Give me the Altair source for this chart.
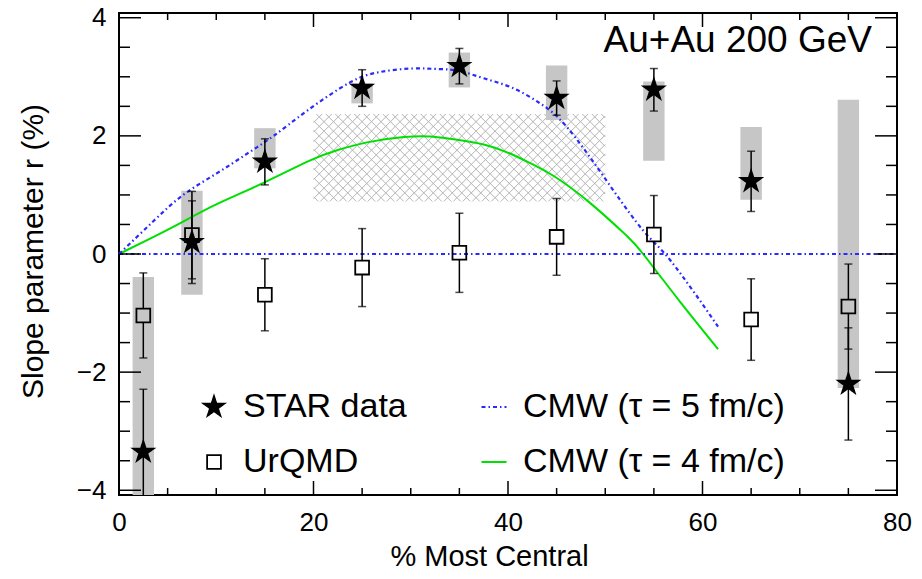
import altair as alt
import pandas as pd
import numpy as np

FONT = "Liberation Sans"
BLUE = "#2a2aff"
GREEN = "#00e000"
BOXGREY = "#c6c6c6"

# ---------------- data ----------------
cent = [2.5, 7.5, 15, 25, 35, 45, 55, 65, 75]
star_r = [-3.35, 0.20, 1.56, 2.81, 3.18, 2.64, 2.78, 1.23, -2.20]
star_err = [1.06, 0.70, 0.39, 0.31, 0.30, 0.29, 0.36, 0.51, 0.95]
sys_lo = [-6.30, -0.69, 1.45, 2.55, 2.82, 2.27, 1.58, 0.92, -2.27]
sys_hi = [-0.39, 1.07, 2.13, 2.89, 3.41, 3.19, 2.92, 2.15, 2.61]
urqmd_r = [-1.04, 0.32, -0.69, -0.23, 0.02, 0.29, 0.33, -1.11, -0.89]
urqmd_err = [0.72, 0.74, 0.61, 0.66, 0.67, 0.65, 0.66, 0.69, 0.72]

cmw5_x = [0, 3.5, 6.6, 10.0, 13.1, 15.9, 19.3, 23.7, 26.8, 30.1, 33.0, 35.0, 37.6, 40.5,
          43.3, 46.0, 49.8, 53.2, 55.3, 56.8, 59.1, 61.6]
cmw5_y = [0, 0.55, 1.00, 1.36, 1.69, 2.00, 2.42, 2.90, 3.08, 3.14, 3.13, 3.10, 2.97, 2.81,
          2.55, 2.16, 1.32, 0.54, 0.15, -0.13, -0.64, -1.23]
cmw4_x = [0, 3.2, 6.5, 10.0, 14.8, 19.6, 22.5, 25.5, 29.3, 32.0, 34.1, 37.6, 40.5, 42.5,
          44.7, 48.4, 52.2, 53.9, 57.7, 61.6]
cmw4_y = [0, 0.26, 0.54, 0.84, 1.20, 1.58, 1.76, 1.89, 1.98, 1.99, 1.95, 1.85, 1.68, 1.52,
          1.32, 0.87, 0.31, 0.00, -0.81, -1.61]

zero_x = [0, 80]
zero_y = [0, 0]

band_x = [20, 50]
band_y = [0.89, 2.37]

series = ["STAR data", "UrQMD", "CMW (τ = 5 fm/c)", "CMW (τ = 4 fm/c)"]

x_major = [0, 20, 40, 60, 80]
x_minor = [5, 10, 15, 25, 30, 35, 45, 50, 55, 65, 70, 75]
y_major = [-4, -2, 0, 2, 4]
y_minor = [-3.5, -3, -2.5, -1.5, -1, -0.5, 0.5, 1, 1.5, 2.5, 3, 3.5]

annotation = "Au+Au 200 GeV"

# ---------------- geometry ----------------
W, H = 778, 482
XD = [0, 80]
YD = [-4.08, 4.08]
kx = W / (XD[1] - XD[0])
ky = H / (YD[1] - YD[0])

xs = alt.Scale(domain=XD, nice=False, zero=False)
ys = alt.Scale(domain=YD, nice=False, zero=False)

xaxis = alt.Axis(values=x_major, title="% Most Central", grid=False, ticks=False, tickSize=0,
                 domain=False, labelFont=FONT, labelFontSize=26, labelColor="black",
                 labelPadding=14, labelFlush=False, titleFont=FONT, titleFontSize=29,
                 titleFontWeight="normal", titleColor="black", titleX=370, titleY=70,
                 titleBaseline="alphabetic", titleAlign="center", format="d")
yaxis = alt.Axis(values=y_major, title="Slope parameter r (%)", grid=False, ticks=False,
                 tickSize=0, domain=False, labelFont=FONT, labelFontSize=26, labelColor="black",
                 labelPadding=13, labelFlush=False, titleFont=FONT, titleFontSize=30,
                 titleFontWeight="normal", titleColor="black", titleX=-77, titleY=238,
                 titleBaseline="alphabetic", titleAlign="center", titleAngle=270, format="d")


def X(f):
    return alt.X(f, type="quantitative", scale=xs, axis=xaxis)


def Y(f):
    return alt.Y(f, type="quantitative", scale=ys, axis=yaxis)


# hatch pattern lines (decoration of the band)
Wpx = (band_x[1] - band_x[0]) * kx
Hpx = (band_y[1] - band_y[0]) * ky
step = 9.5
segs = []
for c in np.arange(-Wpx, Hpx, step):
    a, b = max(0, -c), min(Wpx, Hpx - c)
    if b > a:
        segs.append((a, a + c, b, b + c))
for c in np.arange(step / 2, Wpx + Hpx, step):
    a, b = max(0, c - Hpx), min(Wpx, c)
    if b > a:
        segs.append((a, c - a, b, c - b))
hatch = pd.DataFrame([
    {"x": band_x[0] + s[0] / kx, "y": band_y[0] + s[1] / ky,
     "x2": band_x[0] + s[2] / kx, "y2": band_y[0] + s[3] / ky} for s in segs])

# tables
star_df = pd.DataFrame({"c": cent, "r": star_r, "e": star_err, "lo": sys_lo, "hi": sys_hi})
star_df["l"] = star_df.r - star_df.e
star_df["h"] = star_df.r + star_df.e
star_df["bx1"] = star_df.c - 1.1
star_df["bx2"] = star_df.c + 1.1

half = 7.0 / ky
urq_df = pd.DataFrame({"c": cent, "r": urqmd_r, "e": urqmd_err})
urq_bars = pd.concat([
    pd.DataFrame({"c": urq_df.c, "a": urq_df.r - urq_df.e, "b": urq_df.r - half}),
    pd.DataFrame({"c": urq_df.c, "a": urq_df.r + half, "b": urq_df.r + urq_df.e}),
])
caps = pd.concat([
    pd.DataFrame({"c": star_df.c, "v": star_df.l}),
    pd.DataFrame({"c": star_df.c, "v": star_df.h}),
    pd.DataFrame({"c": urq_df.c, "v": urq_df.r - urq_df.e}),
    pd.DataFrame({"c": urq_df.c, "v": urq_df.r + urq_df.e}),
])
pts = pd.concat([
    pd.DataFrame({"c": cent, "r": star_r, "series": "STAR data"}),
    pd.DataFrame({"c": cent, "r": urqmd_r, "series": "UrQMD"}),
])
pts["order"] = [1] * len(cent) + [0] * len(cent)

cmw5 = pd.DataFrame({"x": cmw5_x, "y": cmw5_y})
cmw4 = pd.DataFrame({"x": cmw4_x, "y": cmw4_y})
zero = pd.DataFrame({"x": zero_x, "y": zero_y})

STAR_PATH = ("M0,-1L0.2245,-0.309L0.9511,-0.309L0.3633,0.118L0.5878,0.809L0,0.382"
             "L-0.5878,0.809L-0.3633,0.118L-0.9511,-0.309L-0.2245,-0.309Z")
DASH5 = [4, 3, 1.5, 3]

LEG = alt.Legend(title=None, orient="none", legendX=78, legendY=377, columns=2,
                 columnPadding=70, rowPadding=21, labelFont=FONT, labelFontSize=34,
                 labelColor="black", labelOffset=12, labelLimit=500, symbolStrokeWidth=1.8,
                 padding=0, symbolOpacity=1)

# ---------------- layers ----------------
hatch_l = alt.Chart(hatch).mark_rule(color="#b4b4b4", strokeWidth=1.0).encode(
    x=X("x"), y=Y("y"), x2="x2", y2="y2")

boxes = alt.Chart(star_df).mark_rect(color=BOXGREY, clip=True).encode(
    x=X("bx1"), x2="bx2", y=Y("lo"), y2="hi")

zero_l = alt.Chart(zero).mark_line(color=BLUE, strokeWidth=2, strokeDash=DASH5).encode(
    x=X("x"), y=Y("y"))
cmw4_l = alt.Chart(cmw4).mark_line(color=GREEN, strokeWidth=2, interpolate="natural").encode(
    x=X("x"), y=Y("y"))
cmw5_l = alt.Chart(cmw5).mark_line(color=BLUE, strokeWidth=2.2, strokeDash=DASH5,
                                   interpolate="natural").encode(x=X("x"), y=Y("y"))

star_bars = alt.Chart(star_df).mark_rule(color="black", strokeWidth=1.5, clip=True).encode(
    x=X("c"), y=Y("l"), y2="h")
urq_bar_l = alt.Chart(urq_bars).mark_rule(color="black", strokeWidth=1.5, clip=True).encode(
    x=X("c"), y=Y("a"), y2="b")
caps_l = alt.Chart(caps).mark_tick(color="black", orient="horizontal", size=8, thickness=1.5,
                                   clip=True).encode(x=X("c"), y=Y("v"))

points = alt.Chart(pts).mark_point(filled=True, opacity=1, strokeWidth=1.8, clip=True).encode(
    x=X("c"), y=Y("r"),
    shape=alt.Shape("series:N", scale=alt.Scale(domain=series,
                    range=[STAR_PATH, "square", "stroke", "stroke"]), legend=LEG),
    fill=alt.Fill("series:N", scale=alt.Scale(domain=series,
                  range=["black", "transparent", "transparent", "transparent"]), legend=LEG),
    stroke=alt.Stroke("series:N", scale=alt.Scale(domain=series,
                      range=["black", "black", BLUE, GREEN]), legend=LEG),
    strokeDash=alt.StrokeDash("series:N", scale=alt.Scale(domain=series,
                              range=[[1, 0], [1, 0], DASH5, [1, 0]]), legend=LEG),
    size=alt.Size("series:N", scale=alt.Scale(type="ordinal", domain=series,
                  range=[470, 190, 625, 625]), legend=LEG),
    order=alt.Order("order:Q"),
)

# inward ticks on all four sides
xmaj = pd.DataFrame({"v": x_major})
xmin = pd.DataFrame({"v": x_minor})
ymaj = pd.DataFrame({"v": y_major})
ymin = pd.DataFrame({"v": y_minor})


def xticks(df, L):
    b = alt.Chart(df).mark_rule(color="black", strokeWidth=1.5)
    return (b.encode(x=X("v"), y=alt.value(H), y2=alt.value(H - L)) +
            b.encode(x=X("v"), y=alt.value(0), y2=alt.value(L)))


def yticks(df, L):
    b = alt.Chart(df).mark_rule(color="black", strokeWidth=1.5)
    return (b.encode(y=Y("v"), x=alt.value(0), x2=alt.value(L)) +
            b.encode(y=Y("v"), x=alt.value(W), x2=alt.value(W - L)))


ann = alt.Chart(pd.DataFrame({"t": [annotation]})).mark_text(
    font=FONT, fontSize=37, align="right", baseline="alphabetic", color="black").encode(
    text="t:N", x=alt.value(753), y=alt.value(39))

chart = alt.layer(
    hatch_l, boxes, cmw4_l, cmw5_l, zero_l, star_bars, urq_bar_l, caps_l, points,
    xticks(xmaj, 14), xticks(xmin, 7), yticks(ymaj, 22), yticks(ymin, 11), ann,
).properties(
    width=W, height=H,
    autosize=alt.AutoSizeParams(type="none"),
    padding={"left": 111, "top": 5, "right": 17, "bottom": 76},
    background="white",
).configure_view(stroke="black", strokeWidth=2)

chart.save("out.html", embed_options={"renderer": "svg", "actions": False})
